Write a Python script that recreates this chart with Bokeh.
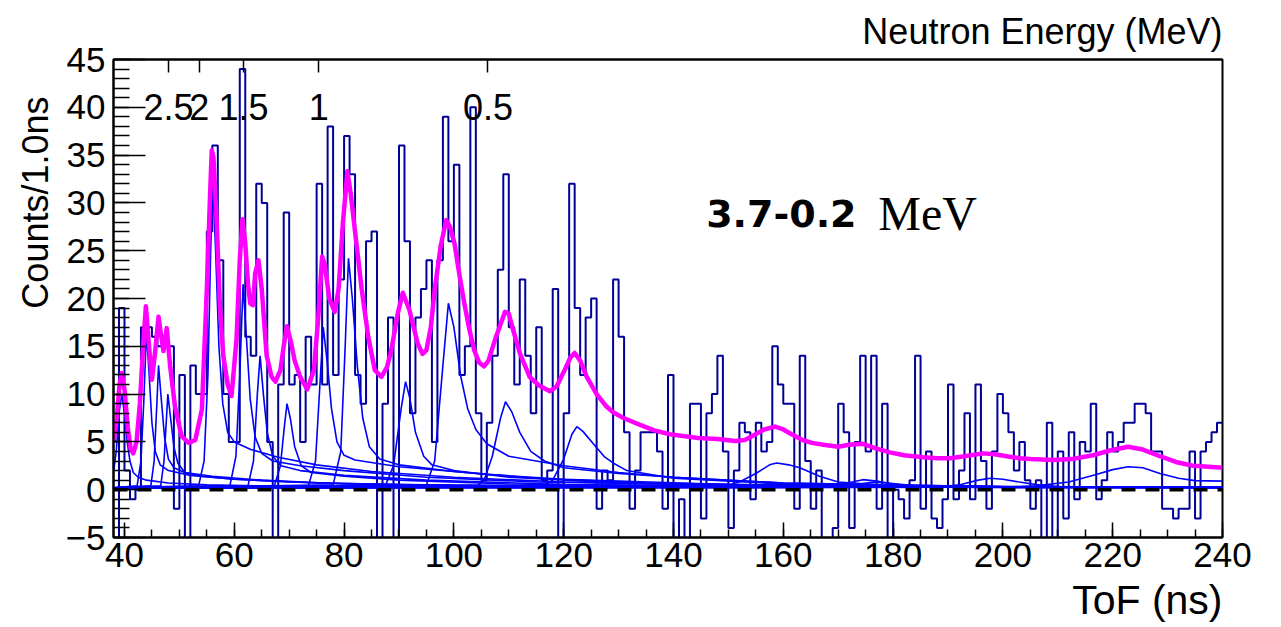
import math
import numpy as np
from bokeh.plotting import figure
from bokeh.models import (Range1d, LinearAxis, SingleIntervalTicker, FixedTicker,
                          Label, Span, ColumnDataSource, Title)
from bokeh.core.properties import value
from bokeh.embed import file_html
from bokeh.resources import INLINE

# ---------------- data ----------------
first_bin_ns = 38          # left edge of first 1 ns bin
bin_width_ns = 1
counts = [
    -6, 19, 2, -1, 0, 17, 17, 16, 15, 15,      # 38-47
    15, -2, 12, -6, 13, 10, 10, 27, 36, 24,    # 48-57
    10, 5, 5, 44, 16, 14, 32, 30, 5, -6,       # 58-67
    11, 29, 11, 12, 5, 16, 11, 32, 11, 38,     # 68-77
    12, 22, 37, 33, 12, 9, 26, 27, -6, 9,      # 78-87
    18, -6, 36, 26, 8, 18, 21, 24, 5, 24,      # 88-97
    39, 26, 34, 12, 15, 40, 8, 1, 7, 14,       # 98-107
    23, 33, 17, 11, 22, 14, 8, 17, 1, 2,       # 108-117
    21, -6, 8, 32, 19, 12, 18, 20, -2, 2,      # 118-127
    1, 22, 16, 6, -2, 2, 6, 6, 6, 4,           # 128-137
    -2, 12, -6, -1, -6, 9, 9, -3, 8, 10,       # 138-147
    14, 4, -4, 2, 7, 6, -1, 7, 4, 5,           # 148-157
    15, 11, 9, 9, -2, 14, 3, -2, 2, -6,        # 158-167
    -6, -4, 9, 6, -4, 5, 14, 4, 14, -2,        # 168-177
    9, -6, 0, -1, -3, 1, 14, -2, 4, -3,        # 178-187
    -4, -1, 11, -1, 2, 8, -1, 11, 3, -2,       # 188-197
    4, 10, 8, 6, 2, 5, 1, -2, 1, -6,           # 198-207
    7, -6, 4, -3, 6, -1, 5, 4, 9, -1,          # 208-217
    1, 6, 4, 5, 7, 7, 9, 9, 8, 4,              # 218-227
    4, -2, -2, -3, -2, -2, 4, -3, 4, 5,        # 228-237
    6, 7,                                      # 238-239
]

# total fit (magenta)
fit_t = [38, 38.6, 39.1, 39.5, 40, 40.6, 41.1, 41.6, 42.2, 42.8, 43.4, 43.9, 44.4, 45,
         45.6, 46.2, 46.7, 47.1, 47.7, 48.3, 49.2, 50.4, 51.7, 52.9, 54.1, 55, 55.6,
         55.9, 56.2, 56.8, 57.4, 58, 58.8, 59.5, 60.4, 61, 61.5, 62, 62.5, 62.9, 63.4,
         63.8, 64.4, 65, 65.9, 66.8, 67.5, 68.4, 69, 69.6, 70.3, 71, 72, 73.3, 74.5,
         75.3, 76, 76.5, 77.3, 78.3, 79, 79.8, 80.6, 81.2, 82.2, 83.2, 84.4, 85.6, 86.8,
         87.8, 88.6, 89.8, 90.7, 91.9, 93.4, 94.3, 95, 95.8, 96.5, 97.6, 98.6, 99.3,
         100.1, 101, 101.9, 102.8, 103.7, 104.6, 105.5, 106.3, 107.5, 109.3, 110, 110.8,
         112, 113.8, 115.5, 117.5, 118.7, 120, 121.2, 122, 123, 124.2, 126, 127.8, 129,
         130.9, 133.8, 136.5, 139.3, 144.5, 148, 151.2, 153, 154.3, 156.5, 158.5, 160,
         161.5, 163.5, 165.2, 167.3, 170, 172, 174.5, 177, 179.4, 182, 185.5, 188, 190.4,
         193, 196.4, 198.5, 200.7, 203, 205, 209.2, 212.5, 216.4, 219.5, 222.8, 225.5,
         228.6, 231.5, 234.6, 237.5, 240]
fit_y = [4.9, 7.5, 11, 12.2, 10.5, 6.5, 4.3, 3.8, 5, 9, 15, 19.2, 15.5, 11.5,
         14.5, 18.1, 16, 14.5, 16.9, 13, 8.7, 5.6, 4.9, 5.2, 8.4, 21, 31,
         35.5, 34.8, 27.9, 19, 14, 11, 9.8, 15.7, 24, 28.3, 25.8, 21.5, 19.5, 19.3,
         22.6, 24, 21, 14, 11.8, 11.3, 12.5, 15, 17.1, 15.5, 13.5, 11.8, 10.5, 12.5,
         18, 24.4, 23.5, 20, 18.6, 21, 28, 33.3, 31, 26, 21, 16, 12.5, 11.8,
         12.8, 14.6, 18.5, 20.6, 18.8, 15.3, 14.2, 14.6, 17, 20.9, 25.5, 28.2, 27.5,
         25.8, 22.5, 19.5, 16.8, 14.6, 13.3, 12.9, 13.5, 15.7, 18.6, 18.4, 16.7,
         14.3, 11.8, 10.9, 10.3, 10.8, 12.3, 13.8, 14.3, 13.5, 11.8, 10, 8.7, 8.1,
         7.5, 6.8, 6.2, 5.8, 5.4, 5.3, 5.1, 5.2, 5.6, 6.3, 6.6, 6.3,
         5.8, 5.2, 4.9, 4.7, 4.5, 4.7, 4.8, 4.3, 3.9, 3.6, 3.4, 3.3, 3.3,
         3.5, 3.8, 3.7, 3.5, 3.3, 3.2, 3.1, 3.2, 3.6, 4.1, 4.5, 4.2,
         3.5, 2.9, 2.5, 2.4, 2.3]

# individual fit components (blue)
comp_t = [
    [38, 38.5, 39, 39.5, 40, 40.5, 41, 41.6, 42.5, 44, 48, 55, 70, 100, 150, 240],
    [38, 42.3, 43, 43.5, 44, 44.5, 45, 45.6, 46.5, 48, 52, 60, 75, 100, 150, 240],
    [38, 44.8, 45.4, 45.9, 46.2, 46.7, 47.3, 48, 49, 51, 56, 65, 80, 110, 160, 240],
    [38, 46.6, 47.2, 47.6, 47.9, 48.4, 49, 49.7, 51, 54, 60, 70, 90, 130, 240],
    [38, 53.5, 54.5, 55.2, 55.7, 56.1, 56.6, 57.2, 57.9, 58.8, 60, 63, 68, 75, 85, 100, 120, 150, 200, 240],
    [38, 59.2, 60.3, 61, 61.6, 62.2, 62.9, 63.8, 65, 67, 72, 80, 95, 115, 150, 200, 240],
    [38, 62.5, 63.5, 64.2, 64.7, 65.3, 66, 67, 68.5, 72, 80, 95, 120, 160, 240],
    [38, 67.3, 68.4, 69.1, 69.6, 70.2, 71, 72.2, 74, 80, 90, 110, 150, 240],
    [38, 73.5, 74.8, 75.6, 76.2, 76.9, 77.7, 78.7, 80, 82, 90, 100, 106, 120, 150, 200, 240],
    [38, 78, 79.4, 80.2, 80.8, 81.5, 82.4, 83.4, 84.6, 86.5, 90, 100, 115, 135, 170, 240],
    [38, 87.5, 89, 90.4, 91.2, 92, 93, 94.5, 96, 100, 110, 130, 170, 240],
    [38, 95, 96.5, 98, 99, 100, 101.2, 102.5, 104, 106, 110, 120, 130, 140, 160, 200, 240],
    [38, 104, 105.5, 107, 108.5, 109.4, 110.5, 112, 114, 116.5, 120, 130, 140, 160, 200, 240],
    [38, 116, 118, 120, 121.5, 122.4, 123.5, 125.4, 127.5, 129, 131.5, 140, 160, 200, 240],
    [38, 146, 150, 152, 155, 157.5, 158.8, 161, 163, 166.6, 170, 180, 200, 240],
    [38, 166, 170, 172.5, 174.5, 177, 180, 184, 190, 240],
    [38, 168, 172, 176.5, 180, 184, 190, 240],
    [38, 188, 192, 195.5, 197.7, 200, 203, 207, 212, 240],
    [38, 200, 206, 212, 217, 220, 222.8, 225.5, 228.6, 232, 235, 240],
]
comp_y = [
    [1.8, 4, 8, 10, 8, 5, 3, 1.8, 1.3, 1.0, 0.7, 0.5, 0.35, 0.3, 0.25, 0.25],
    [0.2, 0.4, 3, 9, 16.5, 12, 7, 4, 2.6, 2, 1.5, 1.1, 0.7, 0.45, 0.3, 0.25],
    [0.2, 0.4, 3, 9, 13, 9.5, 5.5, 3.2, 2.3, 1.8, 1.4, 1, 0.6, 0.4, 0.3, 0.25],
    [0.2, 0.4, 3, 7, 10, 7.5, 4.5, 2.8, 1.8, 1.4, 1.1, 0.8, 0.5, 0.35, 0.25],
    [0.2, 0.4, 3, 12, 25, 32, 25, 15, 9, 6, 5, 4.2, 3.4, 2.6, 1.9, 1.3, 0.8, 0.5, 0.3, 0.3],
    [0.2, 0.4, 3.5, 12, 21.5, 16, 9.5, 5.5, 3.8, 3, 2.5, 2, 1.3, 0.8, 0.5, 0.3, 0.25],
    [0.2, 0.4, 3, 10, 14, 10, 6, 3.5, 2.5, 2, 1.5, 1, 0.55, 0.35, 0.25],
    [0.2, 0.4, 2.5, 6.5, 9, 7.5, 4.5, 2.5, 1.8, 1.4, 1, 0.6, 0.35, 0.25],
    [0.2, 0.4, 3, 11, 17, 13.5, 8.5, 5, 3.6, 3.1, 2.4, 1.9, 1.6, 1.1, 0.55, 0.3, 0.25],
    [0.2, 0.5, 4, 15, 24.2, 20, 13, 7.5, 4.5, 3.2, 2.6, 1.9, 1.2, 0.7, 0.4, 0.25],
    [0.2, 0.4, 2.5, 8.5, 11.3, 9.5, 6, 3.5, 2.6, 2, 1.3, 0.7, 0.35, 0.25],
    [0.2, 0.5, 3, 13, 19.5, 17, 12, 8.5, 6.3, 4.8, 3.5, 2.5, 1.8, 1.3, 0.7, 0.3, 0.25],
    [0.2, 0.3, 1, 3.5, 7.5, 9.2, 8.2, 6, 4, 3, 2.3, 1.7, 1.3, 0.7, 0.3, 0.25],
    [0.2, 0.3, 1, 3.2, 5.8, 6.6, 6.1, 4.8, 3.4, 2.8, 2, 1.2, 0.6, 0.3, 0.25],
    [0.2, 0.25, 0.5, 0.8, 1.7, 2.6, 2.8, 2.6, 2.3, 1.4, 0.8, 0.4, 0.25, 0.2],
    [0.2, 0.25, 0.5, 0.8, 1.05, 0.9, 0.6, 0.35, 0.25, 0.2],
    [0.2, 0.25, 0.45, 0.8, 0.65, 0.4, 0.25, 0.2],
    [0.2, 0.25, 0.5, 1.0, 1.2, 1.1, 0.8, 0.45, 0.25, 0.2],
    [0.2, 0.25, 0.4, 0.8, 1.6, 2.1, 2.4, 2.3, 1.7, 1.2, 0.95, 0.9],
]

# top axis: neutron energy ticks (ToF positions)
energy_tick_tof = [48.0, 53.6, 61.7, 75.4, 106.2]
energy_tick_labels = ["2.5", "2", "1.5", "1", "0.5"]

FONT = "Liberation Sans"

# ---------------- figure ----------------
p = figure(width=1281, height=627, x_range=Range1d(38, 240), y_range=Range1d(-5, 45),
           output_backend="svg", toolbar_location=None,
           min_border_left=113, min_border_right=59, min_border_top=58, min_border_bottom=89,
           background_fill_color="white", border_fill_color="white")
p.xgrid.visible = False
p.ygrid.visible = False
p.outline_line_color = "black"
p.outline_line_width = 2

# title at the top right: "Neutron Energy (MeV)"
p.title.text = "Neutron Energy (MeV)"
p.title.align = "right"
p.title.text_font = FONT
p.title.text_font_size = "36px"
p.title.text_font_style = "normal"
p.title.text_color = "black"
p.title.standoff = 16

xa = p.xaxis[0]
xa.ticker = SingleIntervalTicker(interval=20, num_minor_ticks=4)
xa.major_tick_in = 15
xa.major_tick_out = 0
xa.minor_tick_in = 8
xa.minor_tick_out = 0
xa.axis_line_width = 2
xa.major_tick_line_width = 1.5
xa.minor_tick_line_width = 1.5
xa.major_label_text_font = FONT
xa.major_label_text_font_size = "35px"
xa.major_label_text_color = "black"
xa.major_label_standoff = 5

ya = p.yaxis[0]
ya.ticker = SingleIntervalTicker(interval=5, num_minor_ticks=5)
ya.major_tick_in = 32
ya.major_tick_out = 0
ya.minor_tick_in = 16
ya.minor_tick_out = 0
ya.axis_line_width = 2
ya.major_tick_line_width = 1.5
ya.minor_tick_line_width = 1.5
ya.major_label_text_font = FONT
ya.major_label_text_font_size = "35px"
ya.major_label_text_color = "black"
ya.major_label_standoff = 8
ya.major_label_overrides = {-5: "\u22125"}

top = LinearAxis(ticker=FixedTicker(ticks=energy_tick_tof, minor_ticks=[]),
                 major_tick_in=13, major_tick_out=0, minor_tick_in=0, minor_tick_out=0,
                 major_label_overrides={t: "" for t in energy_tick_tof},
                 major_label_standoff=0, axis_line_width=2,
                 major_tick_line_width=1.5)
p.add_layout(top, "above")

p.add_layout(Title(text="Counts/1.0ns", align="right", offset=37, text_font=FONT,
                   text_font_size="36px", text_font_style="normal", text_color="black",
                   standoff=14), "left")
p.add_layout(Title(text="ToF (ns)", align="right", vertical_align="bottom", text_font=FONT,
                   text_font_size="41px", text_font_style="normal", text_color="black",
                   standoff=10), "below")

# histogram
edges = [first_bin_ns + i * bin_width_ns for i in range(len(counts) + 1)]
p.step(x=edges, y=counts + [counts[-1]], mode="after", line_color="#000099", line_width=2)

# components
for t, y in zip(comp_t, comp_y):
    p.line(x=t, y=y, line_color="#0000ff", line_width=1.6)

# total fit
p.line(x=fit_t, y=fit_y, line_color="#ff00ff", line_width=4.5, line_join="round")

# zero line
p.add_layout(Span(location=0, dimension="width", line_color="black",
                  line_width=3.5, line_dash="14 10"))

# energy labels (inside frame)
src = ColumnDataSource(dict(x=energy_tick_tof, y=[40] * len(energy_tick_tof),
                            t=energy_tick_labels))
p.text(x="x", y="y", text="t", source=src, text_font=value(FONT),
       text_font_size="36px", text_align="center", text_baseline="middle", text_color="black")

p.add_layout(Label(x=145.95, y=28.85, text="3.7-0.2", text_font="DejaVu Sans",
                   text_font_style="bold", text_font_size="38px", text_align="left",
                   text_baseline="middle", text_color="black"))
p.add_layout(Label(x=177.3, y=28.85, text="MeV", text_font="Liberation Serif",
                   text_font_size="48px", text_align="left",
                   text_baseline="middle", text_color="black"))

open("out.html", "w").write(file_html(p, INLINE))
